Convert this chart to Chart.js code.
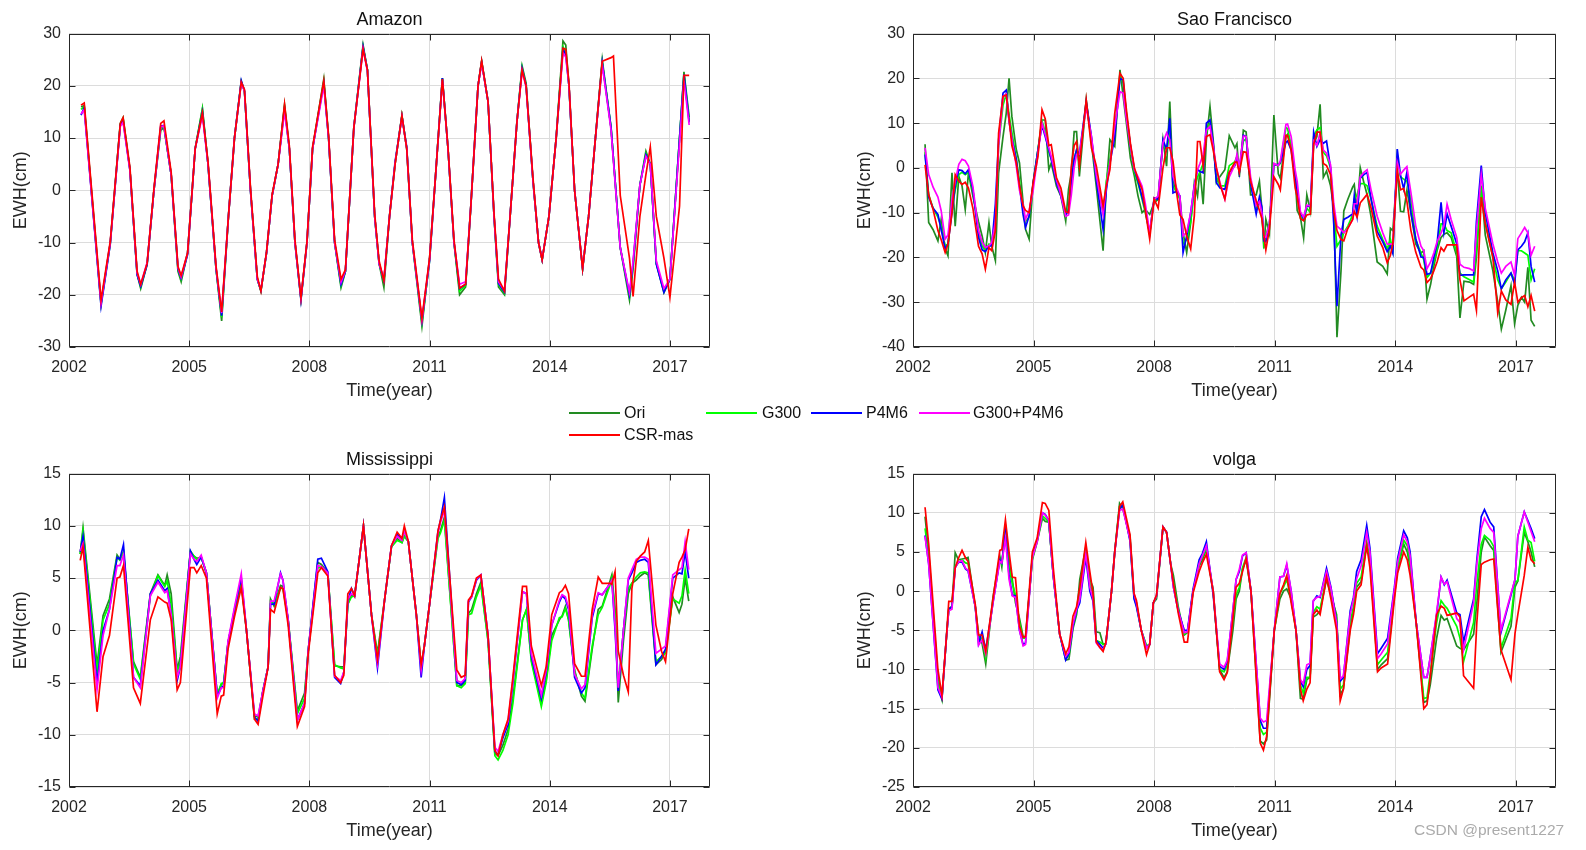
<!DOCTYPE html>
<html><head><meta charset="utf-8">
<script src="https://cdn.jsdelivr.net/npm/chart.js@4.4.1/dist/chart.umd.min.js"></script>
<style>
html,body{margin:0;padding:0;background:#fff;}
body{width:1586px;height:850px;position:relative;overflow:hidden;font-family:'Liberation Sans',Arial,sans-serif;}
.pane{position:absolute;}
.pane canvas{display:block;}
.lg{position:absolute;height:0;border-top:2px solid;}
.lt{position:absolute;font-size:16px;color:#111;line-height:20px;white-space:nowrap;}
#wm{position:absolute;left:1414px;top:821px;font-size:15.5px;color:#ababab;white-space:nowrap;}
</style></head><body>
<div class="pane" style="left:0;top:0;width:760px;height:410px"><canvas id="c1" width="760" height="410"></canvas></div>
<div class="pane" style="left:844px;top:0;width:742px;height:410px"><canvas id="c2" width="742" height="410"></canvas></div>
<div class="pane" style="left:0;top:440px;width:760px;height:410px"><canvas id="c3" width="760" height="410"></canvas></div>
<div class="pane" style="left:844px;top:440px;width:742px;height:410px"><canvas id="c4" width="742" height="410"></canvas></div>

<div class="lg" style="left:569px;top:412px;width:51px;border-color:#228B22"></div><div class="lt" style="left:624px;top:403px">Ori</div>
<div class="lg" style="left:706px;top:412px;width:51px;border-color:#00FF00"></div><div class="lt" style="left:762px;top:403px">G300</div>
<div class="lg" style="left:811px;top:412px;width:51px;border-color:#0000FF"></div><div class="lt" style="left:866px;top:403px">P4M6</div>
<div class="lg" style="left:919px;top:412px;width:51px;border-color:#FF00FF"></div><div class="lt" style="left:973px;top:403px">G300+P4M6</div>
<div class="lg" style="left:569px;top:434px;width:51px;border-color:#FF0000"></div><div class="lt" style="left:624px;top:425px">CSR-mas</div>
<div id="wm">CSDN @present1227</div>

<script>
// ---------- data ----------
const seriesNames = ['Ori','G300','P4M6','G300+P4M6','CSR-mas'];
const yearTicks = [2002,2005,2008,2011,2014,2017];

const amazonTicks = [-30,-20,-10,0,10,20,30];
const amazonTime = [2002.30,2002.38,2002.80,2003.03,2003.28,2003.35,2003.52,2003.70,2003.79,2003.95,
2004.12,2004.29,2004.37,2004.55,2004.72,2004.80,2004.96,2005.15,2005.33,2005.47,
2005.67,2005.81,2005.98,2006.13,2006.30,2006.38,2006.53,2006.70,2006.79,2006.93,
2007.07,2007.22,2007.38,2007.50,2007.64,2007.79,2007.94,2008.08,2008.36,2008.48,
2008.63,2008.79,2008.90,2009.11,2009.34,2009.45,2009.63,2009.74,2009.86,2010.00,
2010.14,2010.31,2010.43,2010.57,2010.81,2011.00,2011.17,2011.32,2011.46,2011.61,
2011.75,2011.90,2012.03,2012.21,2012.30,2012.46,2012.61,2012.72,2012.87,2013.01,
2013.18,2013.31,2013.41,2013.58,2013.72,2013.81,2013.98,2014.16,2014.33,2014.40,
2014.48,2014.62,2014.82,2014.97,2015.14,2015.31,2015.53,2015.59,2015.76,2015.99,
2016.08,2016.25,2016.40,2016.51,2016.66,2016.85,2017.00,2017.24,2017.35,2017.48];
const amazonOri = [16.0,16.2,-21.6,-10.0,12.8,13.9,4.0,-16.0,-18.8,-14.2,
0.0,11.5,12.0,3.0,-15.5,-17.5,-12.0,8.0,15.7,5.0,
-15.0,-25.0,-5.0,10.0,20.8,19.0,0.0,-17.0,-19.3,-12.0,
-1.0,5.0,16.3,8.0,-10.0,-20.8,-10.0,8.0,21.3,10.0,
-10.0,-18.6,-15.5,12.0,27.8,23.0,-5.0,-14.0,-18.6,-5.0,
5.0,14.3,8.0,-10.0,-26.0,-13.0,5.0,21.5,8.0,-10.0,
-20.0,-18.5,-3.0,20.0,24.7,17.0,-5.0,-18.5,-20.0,-5.0,
13.0,23.8,20.5,2.0,-10.0,-13.3,-5.0,10.0,28.6,27.8,
20.0,0.0,-15.0,-5.0,10.0,25.0,12.0,6.0,-11.0,-21.0,
-15.0,1.0,7.5,5.0,-14.0,-19.6,-17.0,10.0,22.7,14.0];
const amazonG300 = [15.5,16.0,-21.8,-10.2,12.6,13.7,4.0,-16.0,-18.5,-14.0,
0.0,12.0,12.2,3.0,-15.0,-17.0,-12.0,8.0,15.5,5.0,
-15.0,-24.3,-5.0,10.0,20.8,19.0,0.0,-17.0,-19.2,-12.0,
-1.0,5.0,16.0,8.0,-10.0,-20.8,-10.0,8.0,20.8,10.0,
-10.0,-18.2,-15.5,12.0,27.5,23.0,-5.0,-14.0,-17.5,-5.0,
5.2,14.3,8.0,-10.0,-25.3,-13.5,5.0,21.4,8.0,-10.0,
-19.3,-18.2,-3.0,20.0,24.6,17.0,-5.0,-18.0,-19.7,-5.0,
13.0,23.5,20.0,2.0,-10.0,-13.3,-5.0,10.0,27.5,26.5,
20.0,0.0,-15.0,-5.0,10.0,24.5,12.0,6.0,-11.0,-20.2,
-14.5,1.0,7.0,5.0,-14.0,-19.3,-17.0,10.0,22.3,13.3];
const amazonP4M6 = [14.4,15.8,-22.2,-10.3,12.5,13.3,4.0,-16.2,-18.4,-14.2,
0.0,12.3,12.4,3.0,-15.0,-16.8,-12.3,8.0,15.0,5.0,
-15.0,-24.0,-5.0,10.0,21.0,19.0,0.0,-17.0,-19.2,-12.0,
-1.0,5.0,15.8,8.0,-10.0,-21.0,-10.0,8.0,20.5,10.0,
-10.0,-18.0,-15.5,12.0,27.5,23.0,-5.0,-14.0,-17.3,-5.0,
5.5,14.2,8.3,-10.0,-25.0,-13.5,5.0,21.5,8.0,-10.0,
-18.8,-18.0,-3.0,20.0,24.6,17.0,-5.0,-17.8,-19.5,-5.0,
13.0,23.3,20.0,2.0,-10.0,-13.3,-5.0,10.0,27.0,26.0,
20.0,0.0,-15.0,-5.0,10.0,24.5,12.0,6.0,-11.0,-20.0,
-14.0,1.0,6.8,5.0,-14.2,-19.5,-17.0,10.0,22.2,13.0];
const amazonGP = [14.6,15.4,-21.6,-10.0,12.2,13.0,3.8,-15.8,-18.0,-13.8,
0.0,12.2,12.3,3.0,-14.8,-16.6,-12.0,8.0,14.3,5.0,
-14.8,-23.5,-5.0,10.0,20.5,19.0,0.0,-17.0,-19.0,-12.0,
-1.0,5.0,15.0,8.0,-10.0,-20.6,-10.0,8.0,20.0,10.0,
-10.0,-17.6,-15.3,12.0,27.0,22.8,-5.0,-14.0,-17.0,-5.0,
5.2,14.0,8.0,-10.0,-24.8,-13.2,5.0,21.0,8.0,-10.0,
-18.0,-17.5,-3.0,20.0,24.3,17.0,-5.0,-17.5,-19.2,-5.0,
13.0,22.8,19.8,2.0,-10.0,-13.2,-5.0,10.0,26.3,25.5,
20.0,0.0,-14.8,-5.0,10.0,24.0,11.5,5.5,-11.0,-19.5,
-13.5,1.0,6.5,5.0,-13.5,-18.8,-17.0,9.0,21.0,12.5];
const amazonCSR = [16.3,16.7,-21.0,-9.8,12.8,13.9,4.5,-15.5,-18.0,-14.0,
0.3,12.8,13.3,3.5,-14.6,-16.3,-12.0,8.0,14.8,5.5,
-14.5,-23.3,-5.0,10.0,20.7,19.3,0.5,-16.5,-19.3,-11.8,
-0.8,5.0,16.5,8.5,-9.5,-20.6,-9.8,8.3,21.0,10.5,
-9.5,-17.0,-15.2,12.0,27.0,23.0,-4.5,-13.5,-17.3,-5.0,
5.0,14.3,8.0,-9.5,-24.5,-13.0,5.0,21.3,8.2,-9.5,
-18.7,-18.0,-3.0,20.0,24.8,17.0,-4.5,-17.0,-19.3,-5.0,
13.0,23.0,20.0,2.5,-10.0,-13.3,-5.0,10.0,27.2,27.0,
20.5,0.0,-15.0,-5.0,10.0,24.7,25.4,25.7,-1.0,-13.0,
-20.3,-5.0,3.0,8.3,-5.0,-13.0,-20.5,-3.0,22.0,22.0];

const sfTicks = [-40,-30,-20,-10,0,10,20,30];
const sfTime = [2002.30,2002.39,2002.50,2002.62,2002.70,2002.80,2002.87,2002.97,2003.05,2003.14,
2003.22,2003.30,2003.38,2003.49,2003.63,2003.72,2003.80,2003.89,2003.96,2004.05,
2004.13,2004.24,2004.32,2004.39,2004.46,2004.57,2004.65,2004.74,2004.80,2004.89,
2004.99,2005.11,2005.21,2005.29,2005.38,2005.44,2005.57,2005.68,2005.80,2005.87,
2005.94,2006.01,2006.07,2006.14,2006.31,2006.44,2006.56,2006.73,2006.81,2006.90,
2007.02,2007.15,2007.23,2007.31,2007.41,2007.51,2007.60,2007.70,2007.78,2007.89,
2008.00,2008.10,2008.22,2008.31,2008.39,2008.47,2008.56,2008.64,2008.72,2008.81,
2008.91,2009.00,2009.08,2009.14,2009.22,2009.30,2009.39,2009.47,2009.55,2009.64,
2009.76,2009.87,2010.01,2010.06,2010.12,2010.22,2010.29,2010.40,2010.54,2010.62,
2010.68,2010.73,2010.78,2010.87,2010.98,2011.09,2011.14,2011.28,2011.32,2011.41,
2011.51,2011.56,2011.64,2011.72,2011.80,2011.89,2011.97,2012.05,2012.13,2012.21,
2012.29,2012.39,2012.47,2012.55,2012.65,2012.72,2012.82,2012.94,2012.98,2013.05,
2013.13,2013.22,2013.30,2013.40,2013.55,2013.69,2013.80,2013.88,2013.94,2014.05,
2014.13,2014.21,2014.29,2014.39,2014.51,2014.64,2014.71,2014.79,2014.88,2014.96,
2015.04,2015.14,2015.21,2015.29,2015.39,2015.53,2015.61,2015.71,2015.85,2015.95,
2016.02,2016.14,2016.24,2016.43,2016.55,2016.64,2016.75,2016.88,2016.97,2017.05,
2017.14,2017.22,2017.30,2017.38,2017.47];
const sfOri = [5.3,-12.2,-13.8,-16.3,-11.5,-18.0,-19.6,-1.1,-13.0,-1.9,
-4.0,-9.3,-1.1,-6.3,-12.0,-15.2,-18.9,-12.2,-17.5,-20.7,
-1.1,7.0,12.2,20.0,11.5,4.1,1.1,-7.8,-13.7,-15.9,
-3.3,4.1,10.7,10.7,-0.4,1.1,-4.1,-6.3,-11.9,-4.8,
-1.1,8.1,8.1,-1.9,15.2,5.6,-4.1,-18.5,-4.1,6.3,
4.8,21.9,16.0,10.0,2.2,-1.9,-6.3,-10.0,-9.3,-10.4,
-7.8,-7.0,6.3,0.4,14.8,-2.6,-5.6,-6.3,-14.4,-18.9,
-12.2,-3.3,-6.3,-0.4,-8.1,6.3,13.7,6.3,-3.3,-1.9,
-0.4,7.2,4.5,5.4,-2.0,8.4,8.0,-6.0,-6.0,-3.0,
-9.0,-18.0,-11.5,-14.7,11.8,-1.3,-2.3,7.0,7.5,5.0,
-2.0,-9.5,-11.0,-15.6,-6.0,-9.7,5.5,7.0,14.2,-2.1,
-0.7,-4.0,-9.0,-37.8,-23.0,-9.6,-7.0,-4.3,-3.7,-9.5,
0.0,-3.3,-6.0,-11.0,-21.0,-22.0,-23.7,-13.5,-14.0,-0.3,
-9.7,-9.8,-5.0,-10.0,-17.0,-19.0,-18.5,-29.3,-26.0,-22.0,
-18.5,-15.5,-14.8,-14.5,-15.5,-19.8,-33.5,-25.3,-25.5,-26.0,
-20.0,-4.0,-15.0,-23.0,-30.0,-36.0,-31.8,-26.3,-34.8,-30.7,
-28.9,-30.0,-22.2,-34.0,-35.4];
const sfG300 = [3.5,-6.0,-9.0,-11.0,-13.0,-17.5,-17.0,-9.0,-5.0,-1.5,
-1.0,-1.5,-1.0,-5.0,-14.0,-17.5,-18.5,-17.0,-17.5,-12.0,
5.0,14.0,16.5,12.0,8.0,2.0,-3.0,-9.5,-12.0,-11.0,
-3.5,4.0,10.5,8.0,3.5,2.0,-3.0,-6.0,-10.5,-9.0,
-3.0,2.0,4.0,2.0,14.5,6.5,-2.0,-10.0,-3.0,2.0,
8.0,20.5,19.0,12.0,5.0,-1.0,-3.5,-7.0,-10.0,-14.5,
-7.0,-7.0,5.5,4.0,8.0,-4.0,-5.5,-7.0,-17.0,-16.0,
-12.0,-5.0,-2.0,-1.0,1.0,8.0,10.0,5.0,-2.0,-4.0,
-4.0,0.5,1.4,2.5,0.0,6.0,6.5,-3.0,-9.0,-7.0,
-10.0,-17.0,-15.0,-12.5,0.7,0.5,1.0,9.0,8.8,5.0,
-2.0,-5.0,-11.0,-11.5,-9.0,-10.0,7.0,8.5,9.0,3.5,
2.7,0.0,-9.5,-17.5,-16.0,-14.5,-13.0,-10.5,-7.0,-6.0,
-3.5,-3.5,-4.0,-7.0,-13.0,-16.0,-18.0,-16.0,-18.5,2.5,
-2.0,-2.5,-3.0,-7.0,-16.0,-19.0,-20.5,-24.5,-23.5,-21.0,
-18.0,-12.5,-12.5,-14.0,-14.5,-19.0,-23.5,-24.3,-25.0,-25.5,
-18.0,-5.0,-12.0,-20.0,-25.0,-27.0,-25.5,-23.5,-25.0,-18.5,
-18.5,-19.0,-19.5,-25.0,-22.5];
const sfP4M6 = [3.0,-6.5,-9.0,-10.4,-13.7,-18.1,-17.0,-10.0,-4.0,-0.4,
-0.6,-1.3,-0.4,-4.8,-15.5,-18.3,-18.7,-17.4,-17.4,-8.0,
6.3,16.7,17.4,10.5,6.5,1.9,-4.1,-10.5,-13.3,-10.7,
-3.3,4.1,9.5,7.0,4.0,1.9,-3.3,-6.2,-10.5,-9.5,
-3.0,2.0,4.0,3.0,14.8,7.0,-2.6,-13.7,-5.0,1.0,
7.0,20.0,19.6,12.0,5.0,-0.4,-3.0,-6.5,-9.3,-14.8,
-6.7,-7.0,6.3,4.1,11.1,-5.6,-5.2,-6.3,-18.9,-15.2,
-10.0,-4.1,-0.4,-0.8,-1.1,10.0,10.7,5.6,-3.3,-4.5,
-4.8,-1.0,0.5,2.5,-1.0,7.3,7.0,-3.5,-10.3,-6.5,
-8.7,-16.3,-16.5,-12.5,0.7,0.8,1.2,5.7,6.0,4.0,
-2.3,-5.0,-10.2,-11.3,-8.5,-8.6,8.0,4.8,6.3,5.5,
6.0,0.0,-12.6,-30.9,-15.0,-11.5,-11.0,-10.3,-6.2,-10.7,
-2.3,-1.5,-1.0,-7.0,-14.2,-16.5,-18.7,-17.5,-19.1,4.2,
-1.6,-4.7,-1.0,-10.0,-15.8,-19.9,-20.0,-23.8,-23.5,-20.0,
-17.0,-7.7,-14.5,-10.3,-13.0,-17.0,-24.0,-23.9,-23.9,-23.9,
-12.0,0.5,-10.0,-19.0,-23.0,-27.0,-25.0,-23.5,-26.0,-18.3,
-17.5,-16.5,-14.5,-22.0,-25.5];
const sfGP = [4.5,-1.5,-4.3,-6.5,-9.5,-15.9,-15.0,-7.0,-3.0,0.8,
1.9,1.6,0.4,-4.1,-14.0,-16.5,-17.8,-17.4,-16.7,-12.0,
5.0,15.9,16.5,10.5,6.5,0.4,-5.0,-8.2,-11.5,-9.5,
-5.0,3.3,10.0,7.5,4.5,2.6,-2.6,-6.0,-10.8,-10.5,
-6.0,0.0,3.0,3.0,13.7,7.0,-1.5,-10.4,-4.0,1.0,
9.3,17.0,16.7,11.0,5.0,-0.4,-2.0,-4.1,-8.0,-14.4,
-7.0,-6.3,5.6,7.8,6.3,-1.9,-4.5,-6.3,-15.2,-14.4,
-10.0,-4.0,-0.4,1.0,3.0,8.5,9.3,5.0,0.0,-3.3,
-7.0,-2.0,0.7,3.0,0.0,7.1,7.0,-2.0,-8.4,-7.5,
-10.0,-15.3,-15.5,-12.5,1.0,0.5,1.5,9.7,9.8,7.0,
-0.5,-3.0,-9.8,-11.0,-8.3,-8.5,6.0,5.0,7.8,4.0,
3.3,0.7,-8.0,-13.0,-13.8,-14.5,-13.5,-11.5,-8.0,-8.0,
-2.0,-1.0,-0.4,-5.0,-10.8,-14.5,-17.0,-17.0,-17.0,1.2,
-1.4,-0.5,0.3,-5.5,-13.0,-17.5,-18.5,-22.5,-21.0,-19.0,
-16.5,-14.5,-13.0,-8.1,-11.5,-15.5,-21.5,-22.2,-22.5,-23.0,
-14.0,-1.5,-9.0,-17.0,-21.0,-23.5,-22.0,-21.0,-24.0,-15.8,
-14.5,-13.3,-14.5,-19.5,-17.5];
const sfCSR = [0.7,-6.0,-9.3,-14.0,-16.0,-18.9,-17.0,-10.0,-1.5,-3.0,
-3.7,-3.2,-4.5,-9.0,-17.5,-19.2,-22.6,-17.8,-18.5,-14.0,
7.8,16.0,16.3,11.0,5.0,1.1,-4.0,-8.5,-9.5,-10.0,
-3.3,2.6,13.0,11.0,5.0,5.2,-2.2,-4.5,-9.8,-10.0,
0.4,5.0,5.9,0.4,15.2,4.5,0.5,-8.5,-4.0,-0.4,
12.2,21.1,20.0,13.0,5.5,0.0,-2.5,-4.8,-9.5,-15.9,
-7.0,-9.0,0.0,4.5,4.5,1.5,-5.6,-10.5,-11.5,-15.2,
-18.1,-10.7,5.9,5.9,0.4,7.0,7.4,4.0,0.0,-3.7,
-7.0,-1.0,1.3,1.3,-1.0,3.6,3.5,-3.0,-7.3,-9.5,
-11.3,-15.0,-18.3,-13.6,-2.0,-3.7,-4.9,7.3,7.3,4.0,
-4.5,-6.5,-11.3,-11.8,-10.5,-10.3,5.3,8.0,8.0,1.0,
0.5,-1.5,-9.8,-14.0,-16.0,-16.3,-13.5,-11.5,-9.7,-11.0,
-7.8,-6.8,-5.9,-9.0,-15.2,-17.8,-21.2,-19.5,-17.0,-0.5,
-4.9,-4.6,-7.5,-14.0,-18.8,-22.2,-22.8,-25.6,-24.7,-23.0,
-21.0,-17.8,-18.6,-17.2,-17.2,-17.2,-25.0,-29.7,-28.8,-28.2,
-31.8,-6.5,-12.5,-20.0,-32.3,-27.5,-29.5,-30.5,-25.5,-30.0,
-29.0,-28.5,-31.0,-28.5,-32.0];

const msTicks = [-15,-10,-5,0,5,10,15];
const msTime = [2002.28,2002.35,2002.70,2002.85,2003.01,2003.20,2003.27,2003.36,2003.61,2003.78,
2004.03,2004.22,2004.39,2004.45,2004.55,2004.70,2004.78,2005.03,2005.12,2005.19,
2005.30,2005.43,2005.70,2005.80,2005.86,2005.97,2006.13,2006.30,2006.43,2006.63,
2006.72,2006.84,2006.97,2007.03,2007.12,2007.28,2007.34,2007.47,2007.70,2007.88,
2007.97,2008.21,2008.30,2008.46,2008.63,2008.78,2008.86,2008.96,2009.05,2009.13,
2009.35,2009.55,2009.70,2009.88,2010.05,2010.19,2010.31,2010.37,2010.47,2010.67,
2010.79,2010.87,2011.00,2011.21,2011.27,2011.37,2011.68,2011.79,2011.89,2011.97,
2012.05,2012.17,2012.28,2012.46,2012.63,2012.71,2012.83,2012.96,2013.08,2013.32,
2013.42,2013.54,2013.79,2013.91,2014.05,2014.24,2014.31,2014.39,2014.47,2014.62,
2014.79,2014.88,2015.06,2015.21,2015.31,2015.51,2015.55,2015.63,2015.71,2015.84,
2015.96,2016.05,2016.16,2016.26,2016.37,2016.46,2016.65,2016.79,2016.89,2017.07,
2017.23,2017.30,2017.38,2017.47];
const msOri = [7.3,9.8,-3.3,1.4,3.0,7.2,6.8,7.5,-3.0,-4.5,
3.5,5.3,4.3,5.3,3.5,-3.8,-2.5,7.6,7.1,6.9,
7.0,5.5,-6.2,-5.2,-5.0,-1.2,1.8,4.5,0.0,-8.2,
-8.3,-5.8,-3.5,3.0,2.3,4.3,4.2,1.0,-7.7,-6.0,
-2.0,6.5,6.3,5.5,-3.4,-3.5,-3.5,2.5,3.4,3.3,
10.0,1.5,-2.2,3.0,8.0,8.8,8.4,9.0,8.5,1.5,
-3.4,-1.5,2.5,9.0,9.5,10.8,-5.3,-5.3,-5.0,1.6,
2.0,3.5,4.6,-1.0,-11.8,-12.0,-11.0,-9.5,-6.5,1.0,
2.0,-2.8,-7.0,-4.8,-0.5,1.0,1.4,2.3,1.0,-3.8,
-6.3,-6.8,-1.8,2.0,2.3,4.8,5.3,2.0,-6.9,-1.0,
3.5,4.5,4.8,5.2,5.5,5.3,-3.3,-2.8,-2.0,3.2,
1.7,2.5,5.0,2.8];
const msG300 = [7.3,9.5,-4.0,1.0,2.5,7.0,6.7,7.5,-3.2,-4.7,
3.3,5.2,4.2,4.7,2.5,-4.0,-3.0,7.5,7.1,6.8,
7.0,5.5,-6.2,-5.1,-5.0,-1.2,1.8,4.7,0.0,-8.5,
-8.5,-5.8,-3.5,2.8,2.5,4.0,4.0,1.0,-8.0,-6.5,
-2.0,6.0,6.0,5.5,-3.3,-3.6,-3.7,2.5,3.2,3.3,
10.0,1.5,-2.5,3.0,8.0,8.6,8.4,9.0,8.5,1.5,
-3.6,-1.5,2.5,8.8,9.3,10.5,-5.3,-5.5,-5.1,1.5,
1.6,3.2,4.3,-1.0,-12.0,-12.4,-11.5,-10.0,-7.0,1.0,
2.0,-3.0,-7.3,-5.0,-1.0,1.2,1.3,2.1,1.0,-4.0,
-6.0,-6.5,-1.5,1.5,2.2,4.4,5.0,1.5,-5.5,0.0,
4.0,4.5,5.1,5.5,5.6,5.5,-3.0,-2.5,-2.2,3.0,
2.6,3.3,5.8,3.5];
const msP4M6 = [7.5,9.0,-5.0,0.0,2.0,7.0,6.8,8.2,-4.5,-5.3,
3.5,4.8,3.8,4.0,1.5,-4.8,-3.5,7.6,6.8,6.3,
7.0,5.5,-6.3,-5.5,-5.3,-1.2,2.0,5.0,0.0,-8.3,
-8.7,-5.8,-3.5,2.5,2.5,5.5,4.8,1.0,-8.6,-7.0,
-2.0,6.8,6.9,5.6,-4.5,-5.1,-4.0,2.8,4.0,3.3,
10.0,1.5,-3.6,3.0,8.1,9.2,8.7,9.5,8.5,1.5,
-4.5,-1.5,2.5,9.5,10.5,12.7,-5.0,-5.2,-4.8,2.7,
3.2,4.8,5.3,-0.5,-11.6,-11.9,-10.3,-9.0,-5.0,3.7,
3.5,-2.5,-6.5,-4.0,0.5,2.7,3.3,3.0,2.0,-4.5,
-6.0,-5.5,1.2,3.5,3.4,4.5,4.8,0.0,-5.8,0.0,
4.8,5.5,6.5,6.7,6.8,6.5,-3.3,-2.5,-1.8,5.0,
5.5,5.4,7.5,5.0];
const msGP = [7.6,8.3,-5.7,-0.5,2.0,6.2,6.2,7.2,-4.5,-5.5,
3.3,4.6,3.6,3.8,1.5,-4.5,-3.5,7.3,6.8,6.6,
7.2,5.5,-6.5,-5.5,-5.5,-1.0,2.2,5.4,0.0,-8.0,
-8.2,-5.8,-3.5,2.8,2.8,5.4,4.8,1.0,-8.6,-7.0,
-2.0,6.2,6.1,5.5,-4.4,-4.8,-4.0,3.0,3.5,3.3,
10.0,1.5,-3.2,3.0,8.1,9.0,8.6,9.5,8.5,1.5,
-3.8,-1.5,2.5,9.3,10.3,11.5,-4.8,-5.0,-4.6,2.8,
3.2,4.9,5.3,-0.5,-11.2,-11.6,-10.0,-8.7,-4.8,3.7,
3.5,-2.2,-6.2,-3.8,0.5,2.9,3.4,3.2,2.2,-4.2,
-5.6,-5.2,1.5,3.6,3.4,4.5,4.8,0.5,-5.5,0.0,
5.0,5.8,6.8,7.0,7.0,6.8,-2.2,-1.8,-1.5,5.3,
5.8,6.0,8.5,5.8];
const msCSR = [6.7,8.0,-7.8,-2.5,-0.5,5.0,5.1,6.2,-5.5,-7.0,
1.0,3.2,2.7,2.6,1.0,-5.7,-5.0,6.0,6.0,5.5,
6.2,5.0,-8.0,-6.3,-6.2,-1.8,1.3,4.1,0.0,-8.5,
-9.0,-6.3,-3.5,2.0,1.7,4.1,4.0,0.5,-9.2,-7.3,
-2.3,5.5,6.0,5.2,-4.3,-5.0,-4.3,3.5,4.0,3.3,
10.0,1.5,-2.8,3.0,8.1,9.4,8.8,10.0,8.5,1.5,
-3.3,-1.5,2.5,9.5,10.5,11.8,-3.8,-4.5,-4.3,2.9,
3.3,5.0,5.3,-0.5,-11.5,-12.0,-10.0,-8.5,-4.5,4.2,
4.2,-1.5,-5.3,-3.5,1.5,3.6,3.8,4.3,3.5,-3.2,
-4.4,-4.4,2.0,5.1,4.5,4.5,4.4,5.6,-2.0,-4.3,
-5.9,4.0,6.6,7.1,7.5,8.6,0.5,-2.0,-3.0,3.5,
6.5,7.0,7.7,9.7];

const vgTicks = [-25,-20,-15,-10,-5,0,5,10,15];
const vgTime = [2002.30,2002.39,2002.62,2002.72,2002.83,2002.89,2002.97,2003.05,2003.13,2003.22,
2003.31,2003.37,2003.55,2003.63,2003.72,2003.81,2003.99,2004.16,2004.21,2004.30,
2004.39,2004.47,2004.55,2004.65,2004.74,2004.80,2004.97,2005.09,2005.22,2005.29,
2005.38,2005.49,2005.65,2005.80,2005.88,2005.98,2006.07,2006.15,2006.30,2006.40,
2006.48,2006.56,2006.65,2006.73,2006.80,2006.94,2007.02,2007.14,2007.22,2007.40,
2007.50,2007.56,2007.68,2007.81,2007.89,2007.98,2008.06,2008.22,2008.31,2008.41,
2008.48,2008.60,2008.75,2008.83,2008.97,2009.12,2009.20,2009.30,2009.47,2009.63,
2009.74,2009.82,2009.96,2010.04,2010.12,2010.20,2010.29,2010.41,2010.64,2010.72,
2010.80,2010.99,2011.13,2011.22,2011.30,2011.41,2011.53,2011.64,2011.71,2011.80,
2011.88,2011.96,2012.05,2012.13,2012.29,2012.40,2012.54,2012.63,2012.71,2012.88,
2012.96,2013.04,2013.15,2013.29,2013.37,2013.56,2013.65,2013.81,2013.98,2014.06,
2014.21,2014.30,2014.37,2014.52,2014.71,2014.79,2014.87,2015.03,2015.14,2015.22,
2015.29,2015.53,2015.61,2015.70,2015.95,2016.03,2016.14,2016.22,2016.36,2016.45,
2016.63,2016.88,2016.98,2017.05,2017.21,2017.30,2017.38,2017.47];
const vgOri = [9.5,5.0,-11.0,-13.7,-6.0,-2.2,-2.0,4.9,4.0,4.1,
4.2,4.3,-2.0,-5.5,-6.7,-9.3,-0.8,4.5,3.1,8.5,
4.0,1.5,-1.5,-3.5,-5.8,-5.8,4.0,6.3,9.3,8.9,
8.8,2.0,-5.5,-8.8,-8.7,-4.8,-3.0,1.5,5.6,1.5,
0.5,-5.2,-5.3,-6.8,-6.7,0.0,5.0,11.2,10.5,7.0,
-0.5,-1.5,-5.0,-7.0,-6.8,-1.5,-1.0,8.2,7.5,3.5,
2.0,-2.0,-5.6,-5.3,0.0,3.2,4.0,5.3,0.0,-10.0,
-11.0,-10.3,-5.0,-1.0,0.0,2.8,4.0,0.0,-19.1,-19.5,
-19.0,-5.0,-1.0,0.0,0.3,-1.0,-5.0,-13.7,-13.8,-11.3,
-11.0,-3.3,-3.0,-2.5,1.5,-0.5,-3.0,-13.2,-12.5,-4.5,
-2.5,0.5,1.2,6.0,4.0,-10.0,-9.4,-8.6,-0.5,2.8,
6.0,5.0,3.0,-4.0,-14.2,-14.0,-12.0,-6.0,-3.1,-3.7,
-3.5,-7.0,-7.3,-7.5,-5.5,-1.5,5.0,6.9,5.8,5.2,
-7.8,-4.5,0.5,1.3,7.5,6.3,5.0,3.1];
const vgG300 = [8.0,4.5,-11.5,-13.7,-6.0,-2.3,-2.0,3.2,3.6,4.0,
3.6,3.5,-2.0,-6.0,-6.0,-8.5,-1.2,4.0,3.5,8.0,
3.0,1.0,-0.5,-4.0,-6.0,-6.0,4.2,6.4,9.6,9.3,
8.8,2.0,-5.5,-8.5,-8.2,-4.5,-2.7,0.0,5.0,1.0,
-0.5,-6.3,-6.5,-6.8,-6.7,0.0,5.0,10.8,10.8,6.6,
-0.8,-1.8,-5.0,-7.0,-6.8,-1.5,-0.7,8.2,7.5,3.5,
1.0,-2.3,-5.5,-5.2,0.0,3.5,4.3,5.5,0.0,-10.0,
-10.3,-9.5,-3.5,-0.5,0.5,3.0,4.3,0.0,-17.5,-18.3,
-18.0,-5.0,-0.3,0.5,1.5,-1.0,-5.0,-12.0,-13.0,-11.0,
-11.0,-2.7,-2.0,-2.3,1.8,0.0,-3.5,-12.5,-12.0,-4.0,
-2.0,1.0,1.8,6.3,4.0,-9.4,-8.8,-7.8,0.0,3.0,
6.5,5.8,3.5,-4.0,-13.7,-13.6,-10.5,-4.0,-1.2,-1.8,
-2.2,-4.5,-6.0,-9.0,-4.0,1.0,6.0,7.1,6.5,5.7,
-7.3,-3.5,1.2,1.3,8.2,6.5,6.2,3.8];
const vgP4M6 = [7.1,3.5,-12.6,-13.8,-6.0,-2.3,-2.0,3.0,3.7,3.7,
2.8,2.6,-2.0,-6.7,-5.2,-7.5,-1.5,4.0,3.6,7.5,
2.0,-0.5,-0.6,-5.0,-6.8,-6.6,4.5,6.5,10.0,9.8,
9.0,2.0,-5.5,-8.8,-8.0,-4.5,-2.5,-1.5,4.3,0.0,
-1.3,-6.3,-6.8,-7.3,-6.7,0.0,5.0,10.5,11.0,6.4,
-1.0,-2.0,-5.0,-7.3,-6.8,-1.5,-0.6,8.2,7.5,3.5,
0.5,-2.5,-5.0,-5.0,0.3,4.0,4.8,6.3,-0.5,-9.6,
-10.0,-9.0,-2.5,1.5,2.5,4.5,4.9,0.0,-16.5,-17.5,
-17.5,-5.0,1.8,1.9,3.3,0.0,-5.0,-11.5,-12.2,-10.0,
-9.5,-1.3,-0.6,-0.8,2.9,0.5,-4.0,-11.5,-11.0,-2.5,
-0.8,2.5,4.0,8.4,5.5,-8.0,-7.3,-6.0,0.5,4.2,
7.7,6.8,5.0,-4.0,-11.0,-11.0,-8.5,-3.0,1.8,0.8,
1.4,-2.8,-3.0,-6.5,-1.0,4.0,9.5,10.4,8.8,8.2,
-5.3,-0.5,1.5,7.0,10.1,9.0,8.0,6.7];
const vgGP = [7.0,3.5,-12.3,-13.5,-6.0,-2.5,-2.3,3.0,3.7,3.9,
2.9,2.7,-2.0,-6.9,-6.2,-8.0,-1.5,3.8,3.6,6.7,
1.5,-0.6,-0.8,-5.0,-7.0,-6.8,4.3,6.3,10.0,9.7,
9.0,2.0,-5.5,-8.3,-7.8,-4.2,-2.3,-1.0,4.8,0.5,
-1.0,-6.6,-7.2,-7.5,-6.7,0.0,5.0,10.3,10.5,6.6,
-0.3,-1.5,-5.0,-7.3,-6.8,-1.5,-0.6,8.2,7.5,3.5,
0.5,-2.5,-5.3,-5.2,0.0,3.5,4.5,5.8,0.0,-9.3,
-9.7,-8.8,-2.5,1.5,2.8,4.6,4.9,0.0,-16.2,-16.7,
-16.5,-5.0,1.8,1.9,3.5,0.0,-5.0,-11.3,-11.8,-9.4,
-9.2,-1.2,-0.8,-0.7,2.5,0.3,-4.1,-11.2,-10.8,-3.0,
-1.0,1.6,3.2,7.5,5.0,-8.6,-8.0,-6.7,0.3,3.7,
7.2,6.3,4.5,-4.0,-11.0,-11.0,-8.5,-2.7,1.8,0.9,
1.2,-3.5,-4.0,-7.5,-1.5,3.5,8.0,9.3,8.0,7.5,
-5.0,-0.3,1.5,7.0,10.1,8.8,7.6,6.3];
const vgCSR = [10.7,6.0,-10.0,-13.3,-6.0,-1.3,-1.3,3.0,4.2,5.2,
4.2,3.8,-1.7,-5.6,-5.6,-7.7,-1.0,5.2,5.3,9.1,
5.0,1.8,1.7,-4.5,-5.9,-5.8,5.0,6.8,11.3,11.2,
10.3,3.0,-5.5,-8.0,-7.1,-3.2,-2.0,0.5,6.2,2.5,
-0.3,-6.5,-7.2,-7.7,-6.5,0.0,5.0,10.8,11.4,7.2,
-0.3,-1.2,-5.0,-8.1,-6.8,-1.5,-0.5,8.2,7.5,3.5,
1.0,-2.8,-6.5,-6.5,-0.2,2.5,3.6,4.7,0.0,-10.3,
-11.3,-10.4,-3.5,0.5,1.0,2.5,4.2,0.0,-19.4,-20.3,
-18.5,-5.0,-0.3,0.8,2.0,-1.5,-5.0,-12.5,-14.0,-12.5,
-11.7,-3.0,-2.4,-3.0,1.8,-1.0,-5.0,-14.0,-12.5,-5.0,
-3.0,0.0,0.8,5.8,3.0,-10.3,-9.8,-9.3,-1.0,2.3,
5.0,4.0,2.0,-4.0,-15.0,-14.5,-11.0,-3.0,-1.9,-2.2,
-3.1,-2.8,-3.3,-10.8,-12.4,-4.0,3.4,3.7,4.0,4.1,
-7.5,-11.3,-5.4,-3.0,2.0,5.6,4.0,3.5];

// ---------- chart building ----------
const colors = ['#228B22','#00FF00','#0000FF','#FF00FF','#FF0000'];
Chart.defaults.font.family = "'Liberation Sans', Arial, Helvetica, sans-serif";
Chart.defaults.color = '#262626';

const boxPlugin = {
  id: 'boxTicks',
  afterDraw(chart) {
    const {ctx, chartArea: a, scales: {x, y}} = chart;
    const L = Math.round(a.left) + 0.5, R = Math.round(a.right) - 0.5;
    const T = Math.round(a.top) + 0.5, B = Math.round(a.bottom) - 0.5;
    const tl = 6;
    ctx.save();
    ctx.strokeStyle = '#262626';
    ctx.lineWidth = 1;
    ctx.beginPath();
    ctx.rect(L, T, R - L, B - T);
    x.ticks.forEach(t => {
      const px = Math.round(x.getPixelForValue(t.value)) + 0.5;
      ctx.moveTo(px, B); ctx.lineTo(px, B - tl);
      ctx.moveTo(px, T); ctx.lineTo(px, T + tl);
    });
    y.ticks.forEach(t => {
      const py = Math.round(y.getPixelForValue(t.value)) + 0.5;
      ctx.moveTo(L, py); ctx.lineTo(L + tl, py);
      ctx.moveTo(R, py); ctx.lineTo(R - tl, py);
    });
    ctx.stroke();
    ctx.restore();
  }
};

function makeChart(id, title, time, series, yTicks, rightPad) {
  const datasets = series.map((vals, k) => ({
    label: seriesNames[k],
    data: time.map((t, i) => ({x: t, y: vals[i]})),
    borderColor: colors[k],
    backgroundColor: colors[k],
    borderWidth: 1.7,
    pointRadius: 0,
    tension: 0,
    fill: false,
    order: 5 - k
  }));
  return new Chart(document.getElementById(id), {
    type: 'line',
    data: {datasets},
    plugins: [boxPlugin],
    options: {
      responsive: false,
      animation: false,
      devicePixelRatio: 1,
      layout: {padding: {left: 0, right: rightPad, top: 0, bottom: 0}},
      plugins: {
        legend: {display: false},
        tooltip: {enabled: false},
        title: {display: true, text: title, fullSize: false, color: '#111',
                font: {size: 18, weight: 'normal'}, padding: {top: 9, bottom: 3}}
      },
      scales: {
        x: {
          type: 'linear', min: yearTicks[0], max: 2018,
          afterBuildTicks: s => { s.ticks = yearTicks.map(v => ({value: v})); },
          afterFit: s => { s.height = 63; },
          ticks: {callback: v => String(v), font: {size: 16}, padding: 11, maxRotation: 0, autoSkip: false, color: '#262626'},
          grid: {color: '#dcdcdc', drawTicks: false, lineWidth: 1},
          border: {display: false},
          title: {display: true, text: 'Time(year)', font: {size: 18}, color: '#262626', padding: {top: 0, bottom: 8}}
        },
        y: {
          type: 'linear', min: yTicks[0], max: yTicks[yTicks.length - 1],
          afterBuildTicks: s => { s.ticks = yTicks.map(v => ({value: v})); },
          afterFit: s => { s.width = 69; },
          ticks: {callback: v => String(v), font: {size: 16}, padding: 8, color: '#262626'},
          grid: {color: '#dcdcdc', drawTicks: false, lineWidth: 1},
          border: {display: false},
          title: {display: true, text: 'EWH(cm)', font: {size: 18}, color: '#262626', padding: {top: 10, bottom: 0}}
        }
      }
    }
  });
}

makeChart('c1', 'Amazon', amazonTime, [amazonOri, amazonG300, amazonP4M6, amazonGP, amazonCSR], amazonTicks, 50);
makeChart('c2', 'Sao Francisco', sfTime, [sfOri, sfG300, sfP4M6, sfGP, sfCSR], sfTicks, 30);
makeChart('c3', 'Mississippi', msTime, [msOri, msG300, msP4M6, msGP, msCSR], msTicks, 50);
makeChart('c4', 'volga', vgTime, [vgOri, vgG300, vgP4M6, vgGP, vgCSR], vgTicks, 30);
</script>
</body></html>
